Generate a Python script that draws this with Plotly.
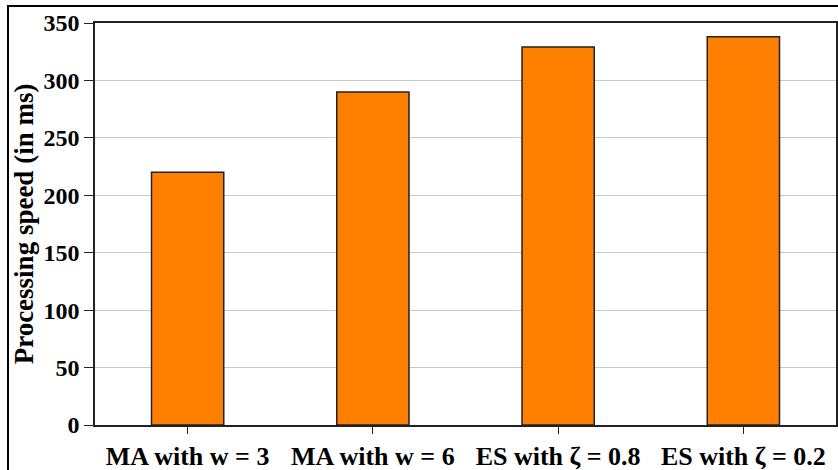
import plotly.graph_objects as go

categories = ["MA with w = 3", "MA with w = 6", "ES with ζ = 0.8", "ES with ζ = 0.2"]
speed_ms = [220, 290, 329, 338]
y_ticks = [0, 50, 100, 150, 200, 250, 300, 350]

FONT = "Liberation Serif"
W, H = 838, 470
L, R, T, B = 95, 2, 23, 45
pw, ph = W - L - R, H - T - B

fig = go.Figure(go.Bar(
    x=categories, y=speed_ms, width=0.39,
    marker=dict(color="#FF7F00", line=dict(color="#222222", width=1.5)),
))

fig.update_layout(
    width=W, height=H,
    margin=dict(l=L, r=R, t=T, b=B),
    paper_bgcolor="white", plot_bgcolor="white",
    font=dict(family=FONT, size=24, color="black", weight="bold"),
    showlegend=False,
)
fig.update_xaxes(
    range=[-0.5, 3.5], showgrid=False, showline=True, mirror=True,
    linecolor="#222222", linewidth=1.5, ticks="outside", ticklen=7,
    tickcolor="#222222", automargin=False,
    tickfont=dict(family=FONT, size=26, weight="bold"),
)
fig.update_yaxes(
    range=[0, 350], tickvals=y_ticks, showgrid=True, gridcolor="#c8c8c8",
    gridwidth=1, showline=True, mirror=True, linecolor="#222222", linewidth=1.5,
    ticks="outside", ticklen=9, tickcolor="#222222", zeroline=False,
    automargin=False,
    tickfont=dict(family=FONT, size=24, weight="bold"),
    title=dict(text="Processing speed (in ms)", standoff=2,
               font=dict(family=FONT, size=27, weight="bold")),
)
# outer frame around the whole picture
fig.add_shape(type="rect", xref="paper", yref="paper",
              x0=(8 - L) / pw, x1=(W + 5 - L) / pw,
              y0=(H - B - (H + 5)) / ph, y1=(H - B - 6) / ph,
              line=dict(color="black", width=2), fillcolor="rgba(0,0,0,0)",
              layer="below")

fig.write_html(
    "out.html",
    config={"displayModeBar": False},
    post_script="document.body.style.margin='0';document.body.style.overflow='hidden';",
)
